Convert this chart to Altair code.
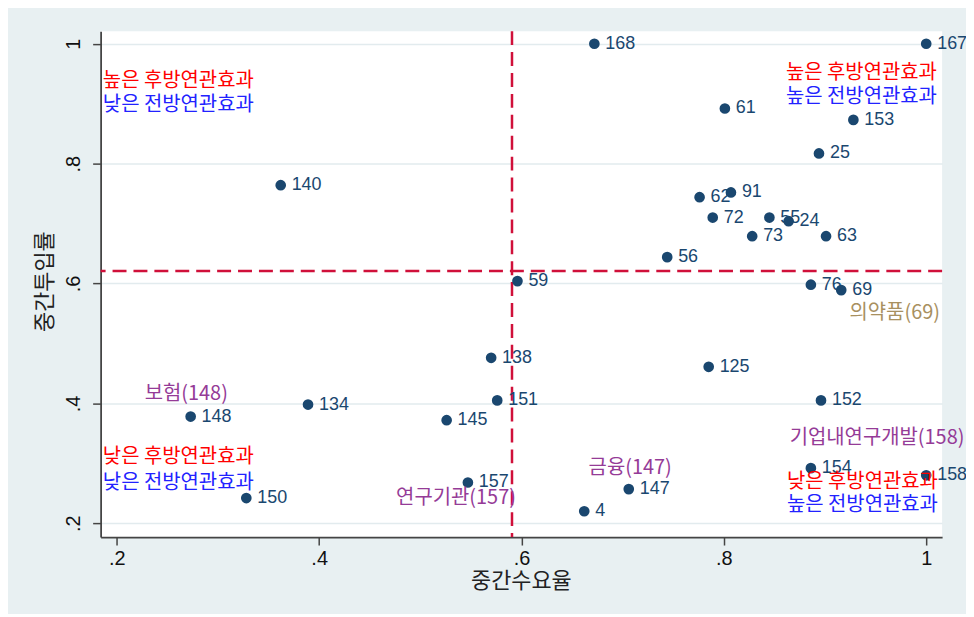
import altair as alt
import pandas as pd

# Point data
ids = ["168", "167", "61", "153", "25", "140", "62", "91", "72", "55", "24", "73", "63",
       "56", "59", "76", "69", "138", "125", "151", "152", "134", "148", "145", "154",
       "158", "157", "147", "150", "4"]
xs = [0.672, 1.000, 0.801, 0.928, 0.894, 0.362, 0.776, 0.807, 0.789, 0.845, 0.864, 0.828, 0.901,
      0.744, 0.596, 0.886, 0.916, 0.570, 0.785, 0.576, 0.896, 0.389, 0.273, 0.526, 0.886,
      1.000, 0.547, 0.706, 0.328, 0.662]
ys = [1.000, 1.000, 0.892, 0.873, 0.817, 0.764, 0.744, 0.752, 0.710, 0.710, 0.704, 0.679, 0.679,
      0.644, 0.604, 0.598, 0.589, 0.476, 0.461, 0.405, 0.405, 0.398, 0.378, 0.372, 0.292,
      0.280, 0.268, 0.257, 0.242, 0.220]

# Reference lines
vline_x = [0.5906]
hline_y = [0.621]

# Annotations
ann_left_text = ["높은 후방연관효과", "낮은 전방연관효과", "낮은 후방연관효과", "낮은 전방연관효과",
                 "보험(148)", "금융(147)", "기업내연구개발(158)"]
ann_left_x = [0.1862, 0.1862, 0.1862, 0.1862, 0.2275, 0.6663, 0.865]
ann_left_y = [0.937, 0.898, 0.310, 0.267, 0.415, 0.292, 0.343]
ann_left_color = ["#ff0000", "#2222ff", "#ff0000", "#2222ff", "#953b97", "#953b97", "#953b97"]

ann_right_text = ["높은 후방연관효과", "높은 전방연관효과", "낮은 후방연관효과", "높은 전방연관효과",
                  "의약품(69)", "연구기관(157)"]
ann_right_x = [1.0106, 1.0106, 1.0116, 1.0116, 1.0136, 0.5945]
ann_right_y = [0.9505, 0.9115, 0.2686, 0.2304, 0.551, 0.242]
ann_right_color = ["#ff0000", "#2222ff", "#ff0000", "#2222ff", "#a89060", "#953b97"]

x_ticks = [0.2, 0.4, 0.6, 0.8, 1.0]
y_ticks = [0.2, 0.4, 0.6, 0.8, 1.0]

pts = pd.DataFrame({"x": xs, "y": ys, "label": ids})
vdf = pd.DataFrame({"x": vline_x})
hdf = pd.DataFrame({"y": hline_y})
adl = pd.DataFrame({"x": ann_left_x, "y": ann_left_y, "t": ann_left_text, "c": ann_left_color})
adr = pd.DataFrame({"x": ann_right_x, "y": ann_right_y, "t": ann_right_text, "c": ann_right_color})

NAVY = "#1a476f"
label_expr = "datum.value >= 0.999 ? '1' : '.' + format(datum.value*10, '.0f')"

xscale = alt.Scale(domain=[0.184, 1.0157], nice=False, zero=False)
yscale = alt.Scale(domain=[0.177, 1.021], nice=False, zero=False)

xenc = alt.X("x:Q", scale=xscale, axis=alt.Axis(
    title="중간수요율", values=x_ticks, labelExpr=label_expr, grid=False,
    titleX=422, titleY=44, titleBaseline="middle", titleAlign="center"))
yenc = alt.Y("y:Q", scale=yscale, axis=alt.Axis(
    title="중간투입률", values=y_ticks, labelExpr=label_expr, grid=True,
    labelAngle=270, labelAlign="center", labelBaseline="bottom", labelPadding=9,
    titleAngle=270, titleX=-56, titleY=251, titleBaseline="middle", titleAlign="center"))

points = alt.Chart(pts).mark_circle(size=115, color=NAVY, opacity=1).encode(x=xenc, y=yenc)
labels = alt.Chart(pts).mark_text(align="left", baseline="middle", dx=11, fontSize=18,
                                  font="Liberation Sans", color=NAVY).encode(
    x="x:Q", y="y:Q", text="label:N")

vrule = alt.Chart(vdf).mark_rule(color="#d0103a", strokeWidth=2.5, strokeDash=[14, 7]).encode(x="x:Q")
hrule = alt.Chart(hdf).mark_rule(color="#d0103a", strokeWidth=2.5, strokeDash=[14, 7]).encode(y="y:Q")

annl = alt.Chart(adl).mark_text(align="left", baseline="middle", fontSize=20,
                                font="Noto Sans CJK KR").encode(
    x="x:Q", y="y:Q", text="t:N", color=alt.Color("c:N", scale=None))
annr = alt.Chart(adr).mark_text(align="right", baseline="middle", fontSize=20,
                                font="Noto Sans CJK KR").encode(
    x="x:Q", y="y:Q", text="t:N", color=alt.Color("c:N", scale=None))

chart = alt.layer(vrule, hrule, points, labels, annl, annr).properties(
    width=845, height=508,
    background="#e8f0f2",
    padding={"left": 93, "top": 22, "right": 24, "bottom": 76},
    autosize=alt.AutoSizeParams(type="none"),
).configure_view(
    fill="white", stroke=None
).configure_axis(
    domainColor="#444", domainWidth=1.8, tickColor="#444", tickWidth=1.5, tickSize=8,
    labelFont="Liberation Sans", labelFontSize=20, labelColor="#111", labelPadding=4,
    titleFont="Noto Sans CJK KR", titleFontSize=22, titleFontWeight="normal", titleColor="#222",
    gridColor="#e2ebee", gridWidth=1.5
)

chart.save("out.html", embed_options={"renderer": "svg", "actions": False})
